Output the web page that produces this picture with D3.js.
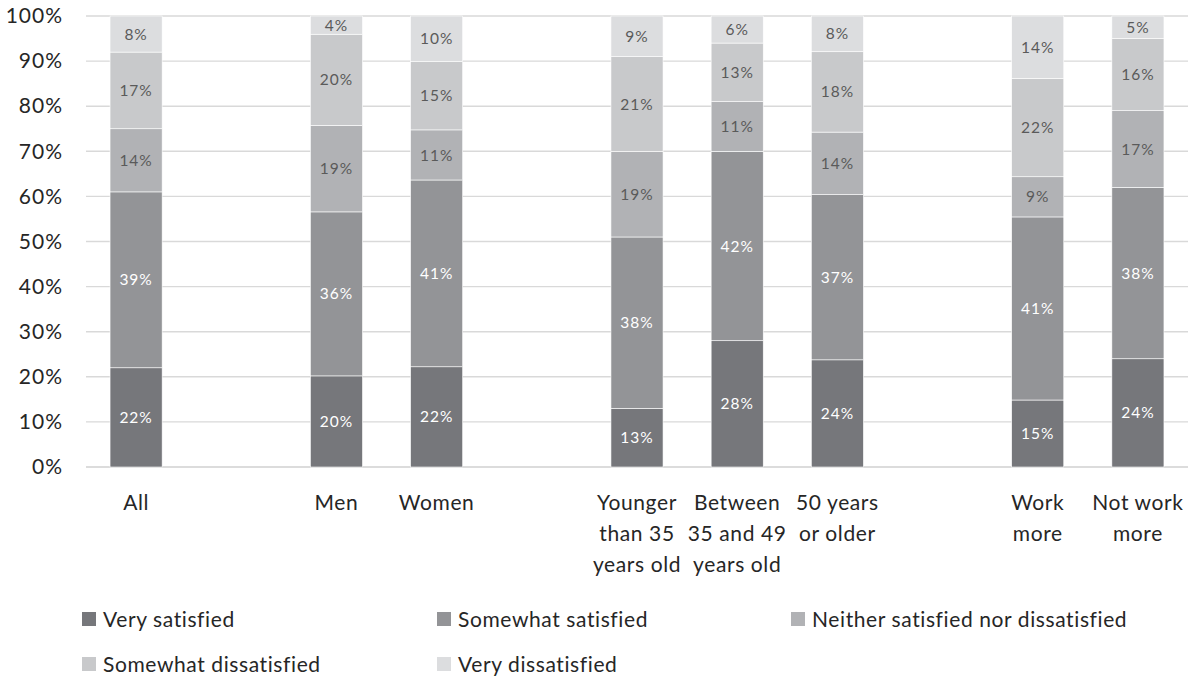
<!DOCTYPE html>
<html>
<head>
<meta charset="utf-8">
<script src="https://cdn.jsdelivr.net/npm/d3@7"></script>
<style>
  html, body { margin: 0; padding: 0; background: #fff; }
  svg { display: block; font-family: Lato, "Open Sans", sans-serif; }
</style>
</head>
<body>
<svg id="chart" width="1200" height="678"></svg>
<script>
// Slots along the x axis; null entries are empty spacer slots between groups
const slots = ["All", null, "Men", "Women", null,
  "Younger than 35 years old", "Between 35 and 49 years old", "50 years or older", null,
  "Work more", "Not work more"];

// Wrapped axis label lines per category
const tickLines = {
  "All": ["All"],
  "Men": ["Men"],
  "Women": ["Women"],
  "Younger than 35 years old": ["Younger", "than 35", "years old"],
  "Between 35 and 49 years old": ["Between", "35 and 49", "years old"],
  "50 years or older": ["50 years", "or older"],
  "Work more": ["Work", "more"],
  "Not work more": ["Not work", "more"]
};

const seriesNames = ["Very satisfied", "Somewhat satisfied",
  "Neither satisfied nor dissatisfied", "Somewhat dissatisfied", "Very dissatisfied"];

// Percent of respondents in each category, per series
const verySatisfied         = [22, 20, 22, 13, 28, 24, 15, 24];
const somewhatSatisfied     = [39, 36, 41, 38, 42, 37, 41, 38];
const neither               = [14, 19, 11, 19, 11, 14,  9, 17];
const somewhatDissatisfied  = [17, 20, 15, 21, 13, 18, 22, 16];
const veryDissatisfied      = [ 8,  4, 10,  9,  6,  8, 14,  5];

const yTicks = [0, 10, 20, 30, 40, 50, 60, 70, 80, 90, 100];

const colors = ["#76777b", "#939497", "#b1b2b5", "#c8c9cb", "#dcdddf"];
const labelColors = ["#ffffff", "#ffffff", "#5a5a5a", "#5a5a5a", "#5a5a5a"];

const categories = slots.filter(d => d !== null);
const seriesValues = [verySatisfied, somewhatSatisfied, neither, somewhatDissatisfied, veryDissatisfied];
const table = categories.map((c, i) => {
  const row = { category: c };
  seriesNames.forEach((s, k) => row[s] = seriesValues[k][i]);
  return row;
});

const svg = d3.select("#chart");
const plot = { left: 86, right: 1188, top: 16, bottom: 467 };

const x = d3.scaleBand()
  .domain(slots.map((d, i) => i))
  .range([plot.left, plot.right])
  .paddingInner(0.48)
  .paddingOuter(0.24);
const xOf = c => x(slots.indexOf(c));

const y = d3.scaleLinear().domain([0, 100]).range([plot.bottom, plot.top]);

// Gridlines
svg.append("g")
  .selectAll("line")
  .data(yTicks)
  .join("line")
  .attr("x1", plot.left).attr("x2", plot.right)
  .attr("y1", d => y(d)).attr("y2", d => y(d))
  .attr("stroke", d => d === 0 ? "#d0d0d0" : "#d9d9d9")
  .attr("stroke-width", 1.4);

// Y axis labels
const yAxis = d3.axisLeft(y).tickValues(yTicks).tickFormat(d => d + "%").tickSize(0).tickPadding(0);
svg.append("g")
  .attr("transform", `translate(63,0)`)
  .call(yAxis)
  .call(g => g.select(".domain").remove())
  .call(g => g.selectAll("text")
    .attr("font-family", "Lato, 'Open Sans', sans-serif")
    .attr("font-size", 21)
    .attr("letter-spacing", 1)
    .attr("fill", "#262626"));

// Stacked bars normalized to 100%
const stack = d3.stack().keys(seriesNames).offset(d3.stackOffsetExpand);
const stacked = stack(table);

const layers = svg.append("g").selectAll("g")
  .data(stacked)
  .join("g")
  .attr("fill", (d, i) => colors[i]);

layers.selectAll("rect")
  .data(d => d)
  .join("rect")
  .attr("x", d => xOf(d.data.category))
  .attr("width", x.bandwidth())
  .attr("y", d => y(d[1] * 100))
  .attr("height", d => y(d[0] * 100) - y(d[1] * 100))
  .attr("stroke", "#ffffff")
  .attr("stroke-width", 0.6);

// Value labels
stacked.forEach((layer, i) => {
  svg.append("g").selectAll("text")
    .data(layer)
    .join("text")
    .attr("x", d => xOf(d.data.category) + x.bandwidth() / 2)
    .attr("y", d => y((d[0] + d[1]) / 2 * 100))
    .attr("dy", "0.36em")
    .attr("text-anchor", "middle")
    .attr("font-size", 15.5)
    .attr("letter-spacing", 1)
    .attr("fill", labelColors[i])
    .text(d => d.data[layer.key] + "%");
});

// Category labels
const xl = svg.append("g");
categories.forEach(c => {
  const t = xl.append("text")
    .attr("x", xOf(c) + x.bandwidth() / 2)
    .attr("y", 502)
    .attr("text-anchor", "middle")
    .attr("font-size", 21)
    .attr("letter-spacing", 0.6)
    .attr("fill", "#262626");
  tickLines[c].forEach((line, j) => {
    t.append("tspan")
      .attr("x", xOf(c) + x.bandwidth() / 2)
      .attr("dy", j === 0 ? "0.36em" : 31)
      .text(line);
  });
});

// Legend
const legendPos = [[82, 619], [437, 619], [791, 619], [82, 664], [437, 664]];
const legend = svg.append("g").selectAll("g")
  .data(seriesNames)
  .join("g")
  .attr("transform", (d, i) => `translate(${legendPos[i][0]},${legendPos[i][1]})`);
legend.append("rect")
  .attr("x", 0).attr("y", -7)
  .attr("width", 14).attr("height", 14)
  .attr("fill", (d, i) => colors[i]);
legend.append("text")
  .attr("x", 21).attr("y", 0).attr("dy", "0.36em")
  .attr("font-size", 21)
  .attr("letter-spacing", 0.6)
  .attr("fill", "#262626")
  .text(d => d);
</script>
</body>
</html>
